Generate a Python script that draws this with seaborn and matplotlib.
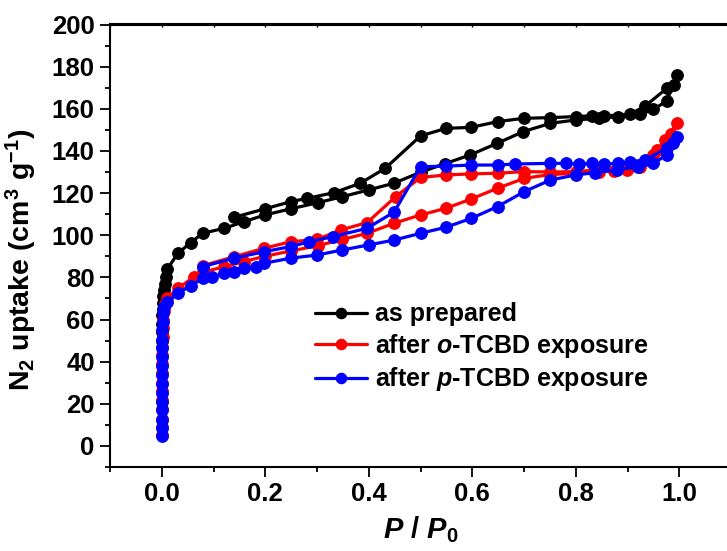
import matplotlib
matplotlib.use("Agg")
import matplotlib.pyplot as plt
import seaborn as sns
import pandas as pd
from matplotlib.ticker import MultipleLocator

# ---- N2 isotherms: adsorption branch followed by desorption branch ----
prep_p = [0.0002, 0.0004, 0.0007, 0.001, 0.0015, 0.002, 0.003, 0.004, 0.006, 0.008, 0.011,
          0.031, 0.056, 0.079, 0.121, 0.159, 0.199, 0.249, 0.301, 0.349, 0.400, 0.449,
          0.500, 0.548, 0.596, 0.648, 0.699, 0.751, 0.800, 0.844, 0.881, 0.924, 0.950,
          0.976, 0.995,
          0.989, 0.976, 0.934, 0.905, 0.855, 0.831, 0.800, 0.751, 0.700, 0.649, 0.598,
          0.549, 0.500, 0.432, 0.384, 0.333, 0.281, 0.249, 0.199, 0.140]
prep_v = [50, 54, 58, 62, 65, 68, 71, 74, 77, 80, 84,
          91.4, 96.5, 100.9, 103.3, 106.4, 109.6, 112.5, 115.4, 118.3, 121.5, 124.7,
          129.9, 134.0, 138.1, 143.6, 149.2, 153.1, 154.7, 155.5, 156.2, 157.3, 159.7,
          163.7, 176.0,
          171.3, 169.7, 161.3, 157.4, 156.6, 156.7, 156.3, 155.8, 155.5, 153.9, 151.2,
          150.7, 147.1, 131.8, 124.7, 120.2, 117.5, 115.9, 112.5, 108.5]

ortho_p = [0.0001, 0.0001, 0.0002, 0.0002, 0.0003, 0.0004, 0.0005, 0.0006, 0.0008, 0.001,
           0.0012, 0.0015, 0.002, 0.003, 0.004, 0.006, 0.011,
           0.031, 0.063, 0.079, 0.121, 0.159, 0.199, 0.249, 0.301, 0.349, 0.397, 0.449,
           0.500, 0.5495, 0.598, 0.649, 0.7006, 0.751, 0.800, 0.844, 0.873, 0.899, 0.924,
           0.957, 0.973, 0.995,
           0.985, 0.950, 0.900, 0.844, 0.800, 0.751, 0.700, 0.649, 0.598, 0.5495, 0.500,
           0.452, 0.397, 0.346, 0.300, 0.249, 0.198, 0.140, 0.079]
ortho_v = [5, 9, 13, 17.5, 22, 26, 30, 34.5, 39, 43,
           47, 51.5, 56, 60, 64, 67.5, 70,
           74.8, 80.3, 82.5, 85.0, 87.5, 90.0, 92.5, 95.0, 98.0, 100.9, 105.7,
           109.6, 112.8, 117.2, 122.3, 127.0, 128.8, 129.4, 130.2, 130.5, 131.0, 132.6,
           140.5, 145.2, 153.1,
           148.0, 138.0, 132.0, 131.0, 130.2, 130.0, 130.2, 129.4, 129.1, 128.6, 127.4,
           118.3, 106.0, 102.5, 98.0, 96.9, 93.8, 89.8, 85.5]

para_p = [0.0001, 0.0001, 0.0002, 0.0002, 0.0003, 0.0003, 0.0004, 0.0005, 0.0006, 0.0007,
          0.0009, 0.0011, 0.0014, 0.0018, 0.0025, 0.004, 0.011,
          0.031, 0.056, 0.079, 0.098, 0.121, 0.140, 0.159, 0.182, 0.198, 0.249, 0.300,
          0.349, 0.400, 0.449, 0.500, 0.5495, 0.598, 0.649, 0.7006, 0.751, 0.800, 0.838,
          0.880, 0.920, 0.950, 0.976, 0.9886, 0.995,
          0.976, 0.934, 0.905, 0.881, 0.855, 0.831, 0.807, 0.781, 0.751, 0.682, 0.649,
          0.598, 0.5495, 0.500, 0.449, 0.397, 0.330, 0.285, 0.249, 0.198, 0.140, 0.079]
para_v = [4.5, 8.5, 12.5, 17, 21, 25, 29.5, 33.5, 38, 42,
          46.5, 50.5, 55, 59, 63, 66, 68.5,
          72.5, 75.9, 79.6, 80.3, 81.9, 82.7, 84.3, 85.1, 86.7, 89.1, 90.6,
          93.0, 95.4, 97.7, 100.9, 103.8, 108.0, 113.6, 120.7, 126.2, 128.6, 129.7,
          131.0, 132.5, 134.1, 138.1, 143.6, 146.5,
          141.3, 135.7, 134.9, 134.1, 133.8, 134.1, 133.8, 134.1, 134.1, 133.8, 133.3,
          133.3, 132.8, 132.5, 111.0, 103.3, 99.3, 96.9, 94.6, 92.2, 89.1, 85.1]

sample_labels = ["as prepared",
                 "after $\\mathit{o}$-TCBD exposure",
                 "after $\\mathit{p}$-TCBD exposure"]
sample_colors = ["#000000", "#ff0000", "#0000ff"]

x_ticks = [0.0, 0.2, 0.4, 0.6, 0.8, 1.0]
y_ticks = [0, 20, 40, 60, 80, 100, 120, 140, 160, 180, 200]

# ---- style ----
sns.set_theme(style="ticks")
plt.rcParams["font.family"] = ["Liberation Sans", "DejaVu Sans"]
plt.rcParams["font.weight"] = "bold"
plt.rcParams["axes.labelweight"] = "bold"
for key in ["text.color", "axes.labelcolor", "axes.edgecolor",
            "xtick.color", "ytick.color"]:
    plt.rcParams[key] = "black"
plt.rcParams["mathtext.fontset"] = "custom"
plt.rcParams["mathtext.rm"] = "Liberation Sans:bold"
plt.rcParams["mathtext.it"] = "Liberation Sans:bold:italic"
plt.rcParams["mathtext.bf"] = "Liberation Sans:bold"
plt.rcParams["mathtext.default"] = "rm"

fig = plt.figure(figsize=(7.27, 5.51), dpi=100)
ax = fig.add_axes([110 / 727, 84 / 551, 621 / 727, 442.5 / 551])

series = [(prep_p, prep_v), (ortho_p, ortho_v), (para_p, para_v)]
for (p, v), lab, col in zip(series, sample_labels, sample_colors):
    df = pd.DataFrame({"P/P0": p, "uptake": v})
    sns.lineplot(data=df, x="P/P0", y="uptake", sort=False, estimator=None,
                 color=col, linewidth=2.3, marker="o", markersize=8.4,
                 markeredgecolor=col, markeredgewidth=0.8, label=lab, ax=ax)

ax.set_xlim(-0.1, 1.1)
ax.set_ylim(-10, 200)
ax.set_xticks(x_ticks)
ax.set_xticklabels([f"{t:.1f}" for t in x_ticks])
ax.set_yticks(y_ticks)
ax.xaxis.set_minor_locator(MultipleLocator(0.1))
ax.yaxis.set_minor_locator(MultipleLocator(10))

for side in ["left", "bottom", "top"]:
    ax.spines[side].set_linewidth(1.5)
ax.spines["right"].set_visible(False)

ax.tick_params(which="major", direction="out", length=7, width=1.3,
               labelsize=18.5, pad=4, top=False, right=False)
ax.tick_params(which="minor", direction="out", length=3.8, width=1.3,
               top=False, right=False)
for lbl in ax.get_xticklabels() + ax.get_yticklabels():
    lbl.set_fontweight("bold")

top = ax.secondary_xaxis("top")
top.set_xticks([i / 10 for i in range(-1, 12)])
top.set_xticklabels([])
top.tick_params(direction="in", length=2.5, width=1.0)
top.spines["top"].set_linewidth(1.5)

ax.set_xlabel("$\\mathit{P}$ / $\\mathit{P}_{0}$", fontsize=21, labelpad=6,
              fontweight="bold")
ax.set_ylabel("N$_2$ uptake (cm$^3$ g$^{-1}$)", fontsize=20.5, fontweight="bold")
ax.yaxis.set_label_coords(-0.115, 0.468)

leg = ax.legend(loc="upper left", bbox_to_anchor=(0.330, 0.372), frameon=False,
                fontsize=18, handlelength=2.1, handletextpad=0.3,
                labelspacing=0.22, borderpad=0, borderaxespad=0)
for t in leg.get_texts():
    t.set_fontweight("bold")
for h in leg.legend_handles:
    h.set_markersize(7.5)

fig.savefig("out.png", dpi=100)
